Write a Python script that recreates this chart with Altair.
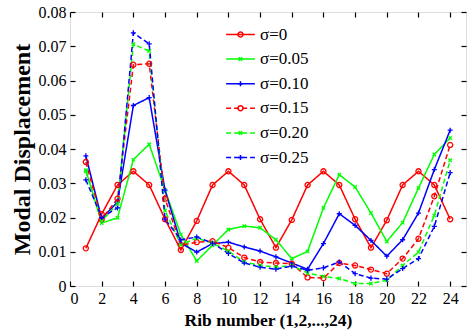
import altair as alt
import pandas as pd

ribs = list(range(1, 25))
series_names = ["σ=0", "σ=0.05", "σ=0.10", "σ=0.15", "σ=0.20", "σ=0.25"]
s000 = [0.011, 0.021, 0.0295, 0.0335, 0.0295, 0.0195, 0.0105, 0.019, 0.0295, 0.0335, 0.0295, 0.0195,
        0.0112, 0.0193, 0.0295, 0.0335, 0.0295, 0.0195, 0.0112, 0.0192, 0.0295, 0.0335, 0.0295, 0.0195]
s005 = [0.0338, 0.0184, 0.0199, 0.0369, 0.0414, 0.028, 0.015, 0.0073, 0.0119, 0.0165, 0.0175, 0.017,
        0.0135, 0.008, 0.0101, 0.0228, 0.0325, 0.0289, 0.0213, 0.013, 0.0185, 0.0286, 0.0384, 0.0432]
s010 = [0.038, 0.0197, 0.0245, 0.0527, 0.055, 0.028, 0.0125, 0.0099, 0.0124, 0.0128, 0.0114, 0.0102,
        0.0085, 0.0067, 0.0049, 0.0124, 0.0211, 0.0177, 0.0133, 0.0087, 0.0135, 0.0213, 0.034, 0.0455]
s015 = [0.0362, 0.0195, 0.0255, 0.0646, 0.0649, 0.0255, 0.0119, 0.0128, 0.0131, 0.0112, 0.0083, 0.007,
        0.0067, 0.0065, 0.0025, 0.0023, 0.0067, 0.006, 0.0048, 0.0036, 0.008, 0.0138, 0.0262, 0.0412]
s020 = [0.0335, 0.019, 0.024, 0.0706, 0.0686, 0.022, 0.012, 0.014, 0.0125, 0.0102, 0.007, 0.006,
        0.0055, 0.006, 0.0038, 0.0028, 0.0022, 0.0007, 0.0007, 0.0017, 0.006, 0.0099, 0.0206, 0.0367]
s025 = [0.031, 0.020, 0.0228, 0.0739, 0.0707, 0.0195, 0.0135, 0.0143, 0.0125, 0.0095, 0.0067, 0.0055,
        0.0049, 0.0058, 0.0046, 0.0053, 0.007, 0.0036, 0.0023, 0.002, 0.0051, 0.008, 0.0174, 0.0331]
x_ticks = list(range(0, 25, 2))
y_ticks = [0, 0.01, 0.02, 0.03, 0.04, 0.05, 0.06, 0.07, 0.08]

colors = ["#ff0000", "#00ff00", "#0000ff", "#ff0000", "#00ff00", "#0000ff"]
dashes = [[1, 0], [1, 0], [1, 0], [5, 3], [5, 3], [5, 3]]
circle = "M-0.22,0A0.22,0.22,0,1,0,0.22,0A0.22,0.22,0,1,0,-0.22,0Z"
cross = "M-0.15,-0.15L0.15,0.15M-0.15,0.15L0.15,-0.15"
plus = "M-0.22,0H0.22M0,-0.22V0.22"
shapes = [circle, cross, plus, circle, cross, plus]
line_symbol = "M-1.25,0H1.25"

# marker legend uses its own (invisible-label) names so it is not merged with the line legend
marker_names = [n + " " for n in series_names]

rows = []
for name, mname, vals in zip(series_names, marker_names, [s000, s005, s010, s015, s020, s025]):
    for r, v in zip(ribs, vals):
        rows.append({"rib": r, "disp": v, "series": name, "series_b": mname})
df = pd.DataFrame(rows)

W, H = 396, 274
FONT = "Liberation Serif"
SYM = 530

xscale = alt.Scale(domain=[0, 25], nice=False)
yscale = alt.Scale(domain=[0, 0.08], nice=False)

leg_common = dict(orient="none", legendX=158, legendY=10, title=None, labelFont=FONT,
                  labelFontSize=17, symbolSize=SYM, symbolStrokeWidth=1.5, rowPadding=3.6,
                  labelOffset=7, padding=0, labelLimit=200)

base = alt.Chart(df)

lines = base.mark_line(strokeWidth=1.5).encode(
    x=alt.X("rib:Q", scale=xscale,
            axis=alt.Axis(values=x_ticks, title="Rib number (1,2,...,24)", ticks=False, domain=False,
                          grid=False, labelFont=FONT, labelFontSize=16, labelColor="black",
                          labelPadding=4, titleFont=FONT, titleFontSize=17.5, titleFontWeight="bold",
                          titleColor="black", titlePadding=5, orient="bottom")),
    y=alt.Y("disp:Q", scale=yscale,
            axis=alt.Axis(values=y_ticks, format=".2~f", title="Modal Displacement", ticks=False,
                          domain=False, grid=False, labelFont=FONT, labelFontSize=16,
                          labelColor="black", labelPadding=4, titleFont=FONT, titleFontSize=24,
                          titleFontWeight="bold", titleColor="black", titlePadding=4, orient="left")),
    color=alt.Color("series:N", scale=alt.Scale(domain=series_names, range=colors),
                    legend=alt.Legend(symbolType=line_symbol, labelColor="black", **leg_common)),
    strokeDash=alt.StrokeDash("series:N", scale=alt.Scale(domain=series_names, range=dashes),
                              legend=alt.Legend(symbolType=line_symbol, labelColor="black", **leg_common)),
    order=alt.Order("rib:Q"),
)

points = base.mark_point(filled=False, strokeWidth=1.3, size=SYM, opacity=1).encode(
    x=alt.X("rib:Q", scale=xscale,
            axis=alt.Axis(values=x_ticks, orient="top", offset=-H, labels=False, title=None,
                          domain=False, grid=False, tickSize=5, tickWidth=1.2, tickColor="black")),
    y=alt.Y("disp:Q", scale=yscale,
            axis=alt.Axis(values=y_ticks, orient="right", offset=-W, labels=False, title=None,
                          domain=False, grid=False, tickSize=5, tickWidth=1.2, tickColor="black")),
    stroke=alt.Stroke("series_b:N", scale=alt.Scale(domain=marker_names, range=colors),
                      legend=alt.Legend(labelOpacity=0, **leg_common)),
    shape=alt.Shape("series_b:N", scale=alt.Scale(domain=marker_names, range=shapes),
                    legend=alt.Legend(labelOpacity=0, **leg_common)),
)

ticks2 = base.mark_point(opacity=0).encode(
    x=alt.X("rib:Q", scale=xscale,
            axis=alt.Axis(values=x_ticks, orient="bottom", offset=-H, labels=False, title=None,
                          domain=False, grid=False, tickSize=5, tickWidth=1.2, tickColor="black")),
    y=alt.Y("disp:Q", scale=yscale,
            axis=alt.Axis(values=y_ticks, orient="left", offset=-W, labels=False, title=None,
                          domain=False, grid=False, tickSize=5, tickWidth=1.2, tickColor="black")),
)

chart = alt.layer(lines, points, ticks2).resolve_axis(
    x="independent", y="independent"
).properties(
    width=W, height=H,
    autosize=alt.AutoSizeParams(type="none"),
    padding={"left": 70, "top": 12, "right": 1, "bottom": 47},
).configure_view(
    stroke="black", strokeWidth=1.3
).configure(background="white")

chart.save("out.html", embed_options={"renderer": "svg", "actions": False})
